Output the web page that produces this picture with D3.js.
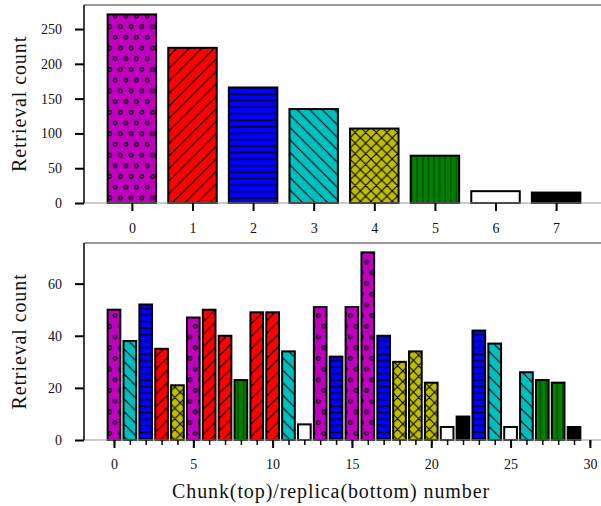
<!DOCTYPE html>
<html>

<head>
    <script src="https://d3js.org/d3.v7.min.js"></script>
    <style>
        body { margin: 0; background: white; }
        text { font-family: "Liberation Serif", serif; fill: #111; }
        .tick text { font-size: 14px; }
        .axis-label { font-size: 20px; letter-spacing: 0.9px; }
    </style>
</head>

<body>
    <div id="chart"></div>

    <script>
        // chunk level (top)
        var chunkIds = [0, 1, 2, 3, 4, 5, 6, 7];
        var chunkCounts = [271, 223, 166, 135, 107, 68, 17, 15];
        var chunkColors = ["#bf00bf", "#ff0000", "#0000ff", "#00bfbf", "#bfbf00", "#008000", "#ffffff", "#000000"];
        var chunkHatches = ["o", "/", "-", "\\", "x", "|", "", ""];

        // replica level (bottom), each replica belongs to a chunk
        var replicaChunk = [0, 3, 2, 1, 4, 0, 1, 1, 5, 1, 1, 3, 6, 0, 2, 0, 0, 2, 4, 4, 4, 6, 7, 2, 3, 6, 3, 5, 5, 7];
        var replicaCounts = [50, 38, 52, 35, 21, 47, 50, 40, 23, 49, 49, 34, 6, 51, 32, 51, 72, 40, 30, 34, 22, 5, 9, 42, 37, 5, 26, 23, 22, 5];

        var topYTicks = [0, 50, 100, 150, 200, 250];
        var bottomYTicks = [0, 20, 40, 60];
        var bottomXTicks = [0, 5, 10, 15, 20, 25, 30];

        var W = 601, H = 506;
        var svg = d3.select("#chart").append("svg")
            .attr("width", W).attr("height", H);

        // hatch patterns, anchored to the page like matplotlib
        var defs = svg.append("defs");
        var hatchId = { "o": "h-o", "/": "h-fs", "-": "h-h", "\\": "h-bs", "x": "h-x", "|": "h-v" };

        var p = defs.append("pattern").attr("id", "h-o").attr("patternUnits", "userSpaceOnUse")
            .attr("width", 10.7).attr("height", 21.4);
        [[2.7, 5.3], [8.05, 16.0]].forEach(function (c) {
            p.append("circle").attr("cx", c[0]).attr("cy", c[1]).attr("r", 1.8)
                .attr("fill", "none").attr("stroke", "#000").attr("stroke-width", 1.2);
        });

        var s = 12.5;
        defs.append("pattern").attr("id", "h-fs").attr("patternUnits", "userSpaceOnUse")
            .attr("width", s).attr("height", s)
            .append("path").attr("d", "M0," + s + "L" + s + ",0M-3,3L3,-3M" + (s - 3) + "," + (s + 3) + "L" + (s + 3) + "," + (s - 3))
            .attr("stroke", "#000").attr("stroke-width", 1.1);
        defs.append("pattern").attr("id", "h-bs").attr("patternUnits", "userSpaceOnUse")
            .attr("width", s).attr("height", s)
            .append("path").attr("d", "M0,0L" + s + "," + s + "M-3," + (s - 3) + "L3," + (s + 3) + "M" + (s - 3) + ",-3L" + (s + 3) + ",3")
            .attr("stroke", "#000").attr("stroke-width", 1.1);
        var sx = 10.6;
        defs.append("pattern").attr("id", "h-x").attr("patternUnits", "userSpaceOnUse")
            .attr("width", sx).attr("height", sx)
            .append("path").attr("d", "M0," + sx + "L" + sx + ",0M-3,3L3,-3M" + (sx - 3) + "," + (sx + 3) + "L" + (sx + 3) + "," + (sx - 3) +
                "M0,0L" + sx + "," + sx + "M-3," + (sx - 3) + "L3," + (sx + 3) + "M" + (sx - 3) + ",-3L" + (sx + 3) + ",3")
            .attr("stroke", "#000").attr("stroke-width", 1.1);
        defs.append("pattern").attr("id", "h-h").attr("patternUnits", "userSpaceOnUse")
            .attr("width", 10).attr("height", 6.5)
            .append("line").attr("x1", 0).attr("x2", 10).attr("y1", 3.2).attr("y2", 3.2)
            .attr("stroke", "#000").attr("stroke-width", 1.3);
        defs.append("pattern").attr("id", "h-v").attr("patternUnits", "userSpaceOnUse")
            .attr("width", 5.6).attr("height", 10)
            .append("line").attr("y1", 0).attr("y2", 10).attr("x1", 2.8).attr("x2", 2.8)
            .attr("stroke", "#064006").attr("stroke-width", 1.2);

        var left = 84, right = 604;

        function drawPanel(cfg) {
            var x = d3.scaleLinear().domain(cfg.xDomain).range([left, right]);
            var y = d3.scaleLinear().domain(cfg.yDomain).range([cfg.bottom, cfg.top]);
            var bw = x(0.8) - x(0);
            var g = svg.append("g");

            var bars = g.selectAll(".bar").data(cfg.values).enter().append("g");
            bars.append("rect")
                .attr("x", (d, i) => x(i) - bw / 2)
                .attr("y", d => y(d))
                .attr("width", bw)
                .attr("height", d => y(0) - y(d))
                .attr("fill", (d, i) => chunkColors[cfg.chunkOf(i)]);
            bars.append("rect")
                .attr("x", (d, i) => x(i) - bw / 2)
                .attr("y", d => y(d))
                .attr("width", bw)
                .attr("height", d => y(0) - y(d))
                .attr("fill", (d, i) => {
                    var h = chunkHatches[cfg.chunkOf(i)];
                    return h ? "url(#" + hatchId[h] + ")" : "none";
                })
                .attr("stroke", "#000")
                .attr("stroke-width", 2);

            // spines
            g.append("line").attr("x1", left).attr("x2", right).attr("y1", cfg.top).attr("y2", cfg.top)
                .attr("stroke", "#333").attr("stroke-width", 1.2);
            g.append("line").attr("x1", left).attr("x2", right).attr("y1", cfg.bottom).attr("y2", cfg.bottom)
                .attr("stroke", "#999").attr("stroke-width", 1);
            g.append("line").attr("x1", left).attr("x2", left).attr("y1", cfg.top).attr("y2", cfg.bottom)
                .attr("stroke", "#000").attr("stroke-width", 1.5);

            var ya = g.append("g").attr("transform", "translate(" + left + ",0)")
                .call(d3.axisLeft(y).tickValues(cfg.yTicks).tickSize(9).tickSizeOuter(0).tickPadding(13));
            var xa = g.append("g").attr("transform", "translate(0," + cfg.bottom + ")")
                .call(d3.axisBottom(x).tickValues(cfg.xTicks).tickSize(8).tickSizeOuter(0).tickPadding(cfg.xPad).tickFormat(d3.format("d")));
            if (cfg.minor) {
                g.append("g").attr("transform", "translate(0," + cfg.bottom + ")")
                    .call(d3.axisBottom(x).tickValues(cfg.minor).tickSize(5).tickFormat(""))
                    .call(a => a.select(".domain").remove())
                    .selectAll("line").attr("stroke", "#000").attr("stroke-width", 1.5);
            }
            [ya, xa].forEach(function (a) {
                a.select(".domain").remove();
                a.selectAll(".tick line").attr("stroke", "#000").attr("stroke-width", 2);
                a.selectAll(".tick text").attr("fill", "#111").style("font-family", "'Liberation Serif', serif");
            });

            g.append("text").attr("class", "axis-label")
                .attr("transform", "translate(19," + ((cfg.top + cfg.bottom) / 2) + ") rotate(-90)")
                .attr("text-anchor", "middle")
                .attr("dy", "0.35em")
                .text("Retrieval count");
        }

        // top: chunks
        drawPanel({
            values: chunkCounts,
            chunkOf: i => chunkIds[i],
            xDomain: [-0.79, 7.79],
            yDomain: [0, 271 * 1.05],
            top: 5, bottom: 203,
            yTicks: topYTicks,
            xTicks: chunkIds,
            xPad: 12
        });

        // bottom: replicas
        drawPanel({
            values: replicaCounts,
            chunkOf: i => replicaChunk[i],
            xDomain: [-1.89, 30.89],
            yDomain: [0, 72 * 1.05],
            top: 243, bottom: 440,
            yTicks: bottomYTicks,
            xTicks: bottomXTicks,
            minor: d3.range(0, 31),
            xPad: 11
        });

        svg.append("text").attr("class", "axis-label")
            .attr("x", 331).attr("y", 498)
            .attr("text-anchor", "middle")
            .text("Chunk(top)/replica(bottom) number");
    </script>
</body>

</html>
